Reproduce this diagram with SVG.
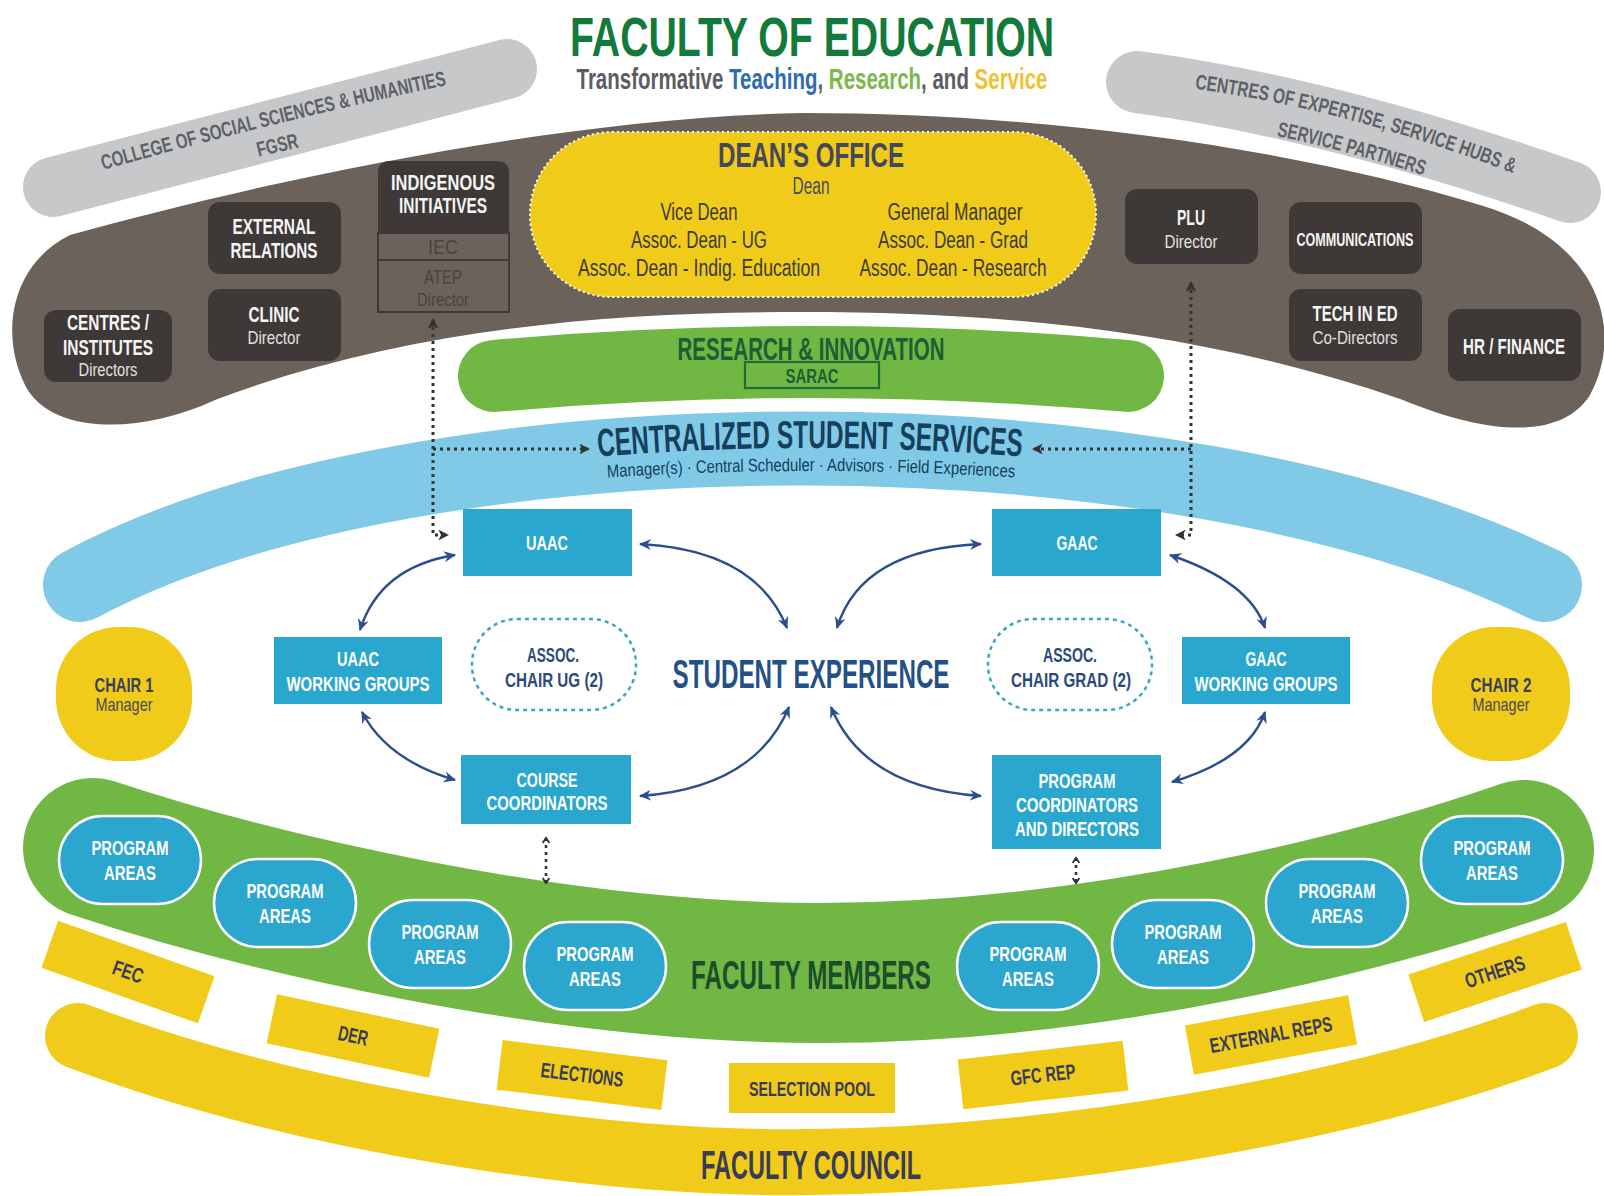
<svg xmlns="http://www.w3.org/2000/svg" width="1604" height="1196" viewBox="0 0 1604 1196">
<defs>
<style>
text{font-family:"Liberation Sans Narrow","Liberation Sans",Arial,sans-serif;text-anchor:middle}
.b{font-weight:bold}
.dbox{fill:#3e3937}
.wt{fill:#f4f4f4;font-weight:bold;font-size:22px}
.wsub{fill:#e0e0e0;font-size:19px}
.bbox{fill:#29a7cf}
.bt{fill:#ffffff;font-weight:bold;font-size:21px}
.pa{fill:#2ba6ce;stroke:#ffffff;stroke-width:2.5}
.yl{fill:#f0cb1a}
.yt{fill:#393c54;font-weight:bold;font-size:21px}
.dean{fill:#3c3a31;font-size:23px}
.ac{fill:none;stroke:#2c4e8e;stroke-width:2.4;marker-start:url(#ah);marker-end:url(#ah)}
.dot{fill:none;stroke:#333333;stroke-width:3;stroke-dasharray:3 4}
.band{fill:none;stroke-linecap:round}
.grayt{fill:#5e6168;font-weight:bold;font-size:21px}
.asc{fill:#2a4a7c;font-weight:bold;font-size:21px}
</style>
<marker id="ah" viewBox="0 0 12 12" refX="10" refY="6" markerWidth="5.5" markerHeight="5.5" orient="auto-start-reverse"><path d="M0,1 L11,6 L0,11 L3.5,6 Z" fill="#2c4e8e"/></marker>
<marker id="dh" viewBox="0 0 10 10" refX="8" refY="5" markerWidth="3.6" markerHeight="3.6" orient="auto-start-reverse"><path d="M0,0 L10,5 L0,10 L2.5,5 Z" fill="#333333"/></marker>
<marker id="ch" viewBox="0 0 10 10" refX="8" refY="5" markerWidth="3.2" markerHeight="3.2" orient="auto-start-reverse"><path d="M2,1 L8,5 L2,9" fill="none" stroke="#333333" stroke-width="2.2"/></marker>
<path id="lt1" d="M 103 170 Q 272 122 447 85" fill="none"/>
<path id="rt1" d="M 1196 89 Q 1350 110 1512 173" fill="none"/>
<path id="rt2" d="M 1190 121 Q 1344 142 1506 205" fill="none"/>
<path id="cssp" d="M 560 460 Q 810 436 1060 460" fill="none"/>
<path id="cssp2" d="M 570 480 Q 811 462 1052 480" fill="none"/>
</defs>

<rect width="1604" height="1196" fill="#ffffff"/>

<g id="title">
<text x="812" y="56" font-size="56" class="b" fill="#127a3a" textLength="484" lengthAdjust="spacingAndGlyphs">FACULTY OF EDUCATION</text>
<text x="812" y="89" font-size="29" class="b" textLength="471" lengthAdjust="spacingAndGlyphs"><tspan fill="#5b5d63">Transformative </tspan><tspan fill="#2b6cb3">Teaching</tspan><tspan fill="#5b5d63">, </tspan><tspan fill="#7bb84a">Research</tspan><tspan fill="#5b5d63">, and </tspan><tspan fill="#f1c232">Service</tspan></text>
</g>

<g id="college-band">
<path class="band" d="M 53 187 L 507 69" stroke="#c7c8ca" stroke-width="60"/>
<text class="grayt"><textPath href="#lt1" startOffset="50%" textLength="354" lengthAdjust="spacingAndGlyphs">COLLEGE OF SOCIAL SCIENCES &amp; HUMANITIES</textPath></text>
<text x="279" y="152" transform="rotate(-13 279 152)" class="grayt" textLength="42" lengthAdjust="spacingAndGlyphs">FGSR</text>
</g>

<g id="centres-expertise-band">
<path class="band" d="M 1137 82 Q 1326 107 1570 192" stroke="#c7c8ca" stroke-width="62"/>
<text class="grayt"><textPath href="#rt1" startOffset="50%" textLength="330" lengthAdjust="spacingAndGlyphs">CENTRES OF EXPERTISE, SERVICE HUBS &amp;</textPath></text>
<text class="grayt"><textPath href="#rt2" startOffset="50%" textLength="152" lengthAdjust="spacingAndGlyphs">SERVICE PARTNERS</textPath></text>
</g>

<g id="admin-band">
<path d="M 802 113 C 1050 113, 1300 150, 1480 205 C 1600 240, 1625 330, 1590 395 C 1565 435, 1500 440, 1403 400 C 1200 330, 1000 312, 802 312 C 600 312, 400 330, 215 400 C 140 435, 50 435, 25 385 C 0 335, 10 265, 70 235 C 250 185, 550 118, 802 113 Z" fill="#6c625c"/>
</g>

<g id="centres-institutes">
<rect class="dbox" x="44" y="310" width="128" height="72" rx="12"/>
<text x="108" y="330" class="wt" textLength="82" lengthAdjust="spacingAndGlyphs">CENTRES /</text>
<text x="108" y="355" class="wt" textLength="90" lengthAdjust="spacingAndGlyphs">INSTITUTES</text>
<text x="108" y="376" class="wsub" textLength="59" lengthAdjust="spacingAndGlyphs">Directors</text>
</g>

<g id="external-relations">
<rect class="dbox" x="208" y="202" width="133" height="72" rx="12"/>
<text x="274" y="234" class="wt" textLength="83" lengthAdjust="spacingAndGlyphs">EXTERNAL</text>
<text x="274" y="258" class="wt" textLength="87" lengthAdjust="spacingAndGlyphs">RELATIONS</text>
</g>

<g id="clinic">
<rect class="dbox" x="208" y="289" width="133" height="72" rx="12"/>
<text x="274" y="322" class="wt" textLength="51" lengthAdjust="spacingAndGlyphs">CLINIC</text>
<text x="274" y="344" class="wsub" textLength="53" lengthAdjust="spacingAndGlyphs">Director</text>
</g>

<g id="indigenous-initiatives">
<path class="dbox" d="M 378 233 V 173 Q 378 161 390 161 H 497 Q 509 161 509 173 V 233 Z"/>
<rect x="378" y="233" width="131" height="79" fill="none" stroke="#3e3937" stroke-width="2"/>
<line x1="378" y1="260" x2="509" y2="260" stroke="#3e3937" stroke-width="2"/>
<text x="443" y="190" class="wt" textLength="104" lengthAdjust="spacingAndGlyphs">INDIGENOUS</text>
<text x="443" y="213" class="wt" textLength="88" lengthAdjust="spacingAndGlyphs">INITIATIVES</text>
<text x="443" y="254" font-size="21" fill="#4a4441" textLength="30" lengthAdjust="spacingAndGlyphs">IEC</text>
<text x="443" y="284" font-size="21" fill="#4a4441" textLength="38" lengthAdjust="spacingAndGlyphs">ATEP</text>
<text x="443" y="306" font-size="19" fill="#4a4441" textLength="52" lengthAdjust="spacingAndGlyphs">Director</text>
</g>

<g id="deans-office">
<rect x="530" y="132" width="566" height="165" rx="82" fill="#f0cb1a" stroke="#ffffff" stroke-width="2" stroke-dasharray="2 3"/>
<text x="811" y="167" font-size="35" class="b" fill="#45475a" textLength="186" lengthAdjust="spacingAndGlyphs">DEAN’S OFFICE</text>
<text x="811" y="194" font-size="23" fill="#474c63" textLength="37" lengthAdjust="spacingAndGlyphs">Dean</text>
<text x="699" y="220" class="dean" textLength="77" lengthAdjust="spacingAndGlyphs">Vice Dean</text>
<text x="699" y="248" class="dean" textLength="136" lengthAdjust="spacingAndGlyphs">Assoc. Dean - UG</text>
<text x="699" y="276" class="dean" textLength="242" lengthAdjust="spacingAndGlyphs">Assoc. Dean - Indig. Education</text>
<text x="955" y="220" class="dean" textLength="135" lengthAdjust="spacingAndGlyphs">General Manager</text>
<text x="953" y="248" class="dean" textLength="150" lengthAdjust="spacingAndGlyphs">Assoc. Dean - Grad</text>
<text x="953" y="276" class="dean" textLength="187" lengthAdjust="spacingAndGlyphs">Assoc. Dean - Research</text>
</g>

<g id="plu">
<rect class="dbox" x="1125" y="189" width="133" height="75" rx="12"/>
<text x="1191" y="225" class="wt" textLength="28" lengthAdjust="spacingAndGlyphs">PLU</text>
<text x="1191" y="248" class="wsub" textLength="53" lengthAdjust="spacingAndGlyphs">Director</text>
</g>

<g id="communications">
<rect class="dbox" x="1289" y="202" width="133" height="72" rx="12"/>
<text x="1355" y="246" class="wt" style="font-size:18px" textLength="117" lengthAdjust="spacingAndGlyphs">COMMUNICATIONS</text>
</g>

<g id="tech-in-ed">
<rect class="dbox" x="1289" y="289" width="133" height="72" rx="12"/>
<text x="1355" y="321" class="wt" textLength="85" lengthAdjust="spacingAndGlyphs">TECH IN ED</text>
<text x="1355" y="344" class="wsub" textLength="85" lengthAdjust="spacingAndGlyphs">Co-Directors</text>
</g>

<g id="hr-finance">
<rect class="dbox" x="1448" y="309" width="133" height="72" rx="12"/>
<text x="1514" y="354" class="wt" textLength="102" lengthAdjust="spacingAndGlyphs">HR / FINANCE</text>
</g>

<g id="centralized-student-services">
<path class="band" d="M 80 585 C 420 402, 1180 404, 1545 585" stroke="#80c9e7" stroke-width="74"/>
<text font-size="39" class="b" fill="#163f5c"><textPath href="#cssp" startOffset="50%" textLength="424" lengthAdjust="spacingAndGlyphs">CENTRALIZED STUDENT SERVICES</textPath></text>
<text font-size="18" fill="#163f5c"><textPath href="#cssp2" startOffset="50%" textLength="408" lengthAdjust="spacingAndGlyphs">Manager(s) · Central Scheduler · Advisors · Field Experiences</textPath></text>
</g>

<g id="research-innovation">
<path class="band" d="M 494 376 Q 811 348 1128 376" stroke="#ffffff" stroke-width="80"/>
<path class="band" d="M 494 376 Q 811 348 1128 376" stroke="#70b744" stroke-width="72"/>
<text x="811" y="360" font-size="31" class="b" fill="#1d5e35" textLength="267" lengthAdjust="spacingAndGlyphs">RESEARCH &amp; INNOVATION</text>
<rect x="745" y="362" width="134" height="26" fill="none" stroke="#1e6b39" stroke-width="2.2"/>
<text x="812" y="383" font-size="21" class="b" fill="#1d5e35" textLength="53" lengthAdjust="spacingAndGlyphs">SARAC</text>
</g>

<g id="faculty-members-band">
<path class="band" d="M 93 848 C 250 900, 550 973, 820 973 C 1100 973, 1380 900, 1524 850" stroke="#70b744" stroke-width="140"/>
<text x="811" y="989" font-size="41" class="b" fill="#1e4d2b" textLength="240" lengthAdjust="spacingAndGlyphs">FACULTY MEMBERS</text>
</g>

<g id="faculty-council-band">
<path class="band" d="M 78 1036 C 300 1120, 600 1165, 810 1162 C 1050 1160, 1350 1110, 1545 1036" stroke="#f0cb1a" stroke-width="66"/>
<text x="811" y="1179" font-size="40" class="b" fill="#393c54" textLength="220" lengthAdjust="spacingAndGlyphs">FACULTY COUNCIL</text>
</g>

<g id="connectors">
<path class="dot" d="M 433 320 V 535 H 447" style="marker-start:url(#dh);marker-end:url(#dh)"/>
<path class="dot" d="M 433 449 H 588" style="marker-end:url(#dh)"/>
<path class="dot" d="M 1191 283 V 535 H 1177" style="marker-start:url(#dh);marker-end:url(#dh)"/>
<path class="dot" d="M 1191 449 H 1034" style="marker-end:url(#dh)"/>
<path class="ac" d="M 640 544 Q 756 550 787 628"/>
<path class="ac" d="M 981 544 Q 861 549 837 628"/>
<path class="ac" d="M 640 796 Q 755 788 789 707"/>
<path class="ac" d="M 981 796 Q 864 788 831 707"/>
<path class="ac" d="M 455 555 Q 380 567 360 630"/>
<path class="ac" d="M 362 712 Q 387 760 455 780"/>
<path class="ac" d="M 1170 555 Q 1250 582 1265 628"/>
<path class="ac" d="M 1265 712 Q 1249 759 1172 782"/>
<path class="dot" d="M 546 838 V 883" style="stroke-width:2.6;marker-start:url(#ch);marker-end:url(#ch)"/>
<path class="dot" d="M 1076 858 V 883" style="stroke-width:2.6;marker-start:url(#ch);marker-end:url(#ch)"/>
</g>

<g id="uaac">
<rect class="bbox" x="463" y="509" width="169" height="67"/>
<text x="547" y="550" class="bt" textLength="42" lengthAdjust="spacingAndGlyphs">UAAC</text>
</g>
<g id="gaac">
<rect class="bbox" x="992" y="509" width="169" height="67"/>
<text x="1077" y="550" class="bt" textLength="41" lengthAdjust="spacingAndGlyphs">GAAC</text>
</g>
<g id="uaac-working-groups">
<rect class="bbox" x="274" y="637" width="168" height="67"/>
<text x="358" y="666" class="bt" textLength="42" lengthAdjust="spacingAndGlyphs">UAAC</text>
<text x="358" y="691" class="bt" textLength="143" lengthAdjust="spacingAndGlyphs">WORKING GROUPS</text>
</g>
<g id="gaac-working-groups">
<rect class="bbox" x="1182" y="637" width="168" height="67"/>
<text x="1266" y="666" class="bt" textLength="41" lengthAdjust="spacingAndGlyphs">GAAC</text>
<text x="1266" y="691" class="bt" textLength="143" lengthAdjust="spacingAndGlyphs">WORKING GROUPS</text>
</g>
<g id="assoc-chair-ug">
<rect x="472" y="619" width="164" height="91" rx="45" fill="none" stroke="#3aa6c4" stroke-width="2.5" stroke-dasharray="4 4"/>
<text x="553" y="662" class="asc" textLength="52" lengthAdjust="spacingAndGlyphs">ASSOC.</text>
<text x="554" y="687" class="asc" textLength="98" lengthAdjust="spacingAndGlyphs">CHAIR UG (2)</text>
</g>
<g id="assoc-chair-grad">
<rect x="988" y="619" width="164" height="91" rx="45" fill="none" stroke="#3aa6c4" stroke-width="2.5" stroke-dasharray="4 4"/>
<text x="1070" y="662" class="asc" textLength="54" lengthAdjust="spacingAndGlyphs">ASSOC.</text>
<text x="1071" y="687" class="asc" textLength="120" lengthAdjust="spacingAndGlyphs">CHAIR GRAD (2)</text>
</g>
<g id="student-experience">
<text x="811" y="688" font-size="40" class="b" fill="#235187" textLength="277" lengthAdjust="spacingAndGlyphs">STUDENT EXPERIENCE</text>
</g>
<g id="course-coordinators">
<rect class="bbox" x="461" y="755" width="170" height="69"/>
<text x="547" y="787" class="bt" textLength="61" lengthAdjust="spacingAndGlyphs">COURSE</text>
<text x="547" y="810" class="bt" textLength="121" lengthAdjust="spacingAndGlyphs">COORDINATORS</text>
</g>
<g id="program-coordinators">
<rect class="bbox" x="992" y="755" width="169" height="94"/>
<text x="1077" y="788" class="bt" textLength="77" lengthAdjust="spacingAndGlyphs">PROGRAM</text>
<text x="1077" y="812" class="bt" textLength="122" lengthAdjust="spacingAndGlyphs">COORDINATORS</text>
<text x="1077" y="836" class="bt" textLength="124" lengthAdjust="spacingAndGlyphs">AND DIRECTORS</text>
</g>

<g id="chair-1">
<rect x="56" y="627" width="136" height="134" rx="62" class="yl"/>
<text x="124" y="692" font-size="21" class="b" fill="#3c3f58" textLength="59" lengthAdjust="spacingAndGlyphs">CHAIR 1</text>
<text x="124" y="711" font-size="19" fill="#4a4a55" textLength="57" lengthAdjust="spacingAndGlyphs">Manager</text>
</g>
<g id="chair-2">
<rect x="1432" y="627" width="138" height="134" rx="62" class="yl"/>
<text x="1501" y="692" font-size="21" class="b" fill="#3c3f58" textLength="61" lengthAdjust="spacingAndGlyphs">CHAIR 2</text>
<text x="1501" y="711" font-size="19" fill="#4a4a55" textLength="57" lengthAdjust="spacingAndGlyphs">Manager</text>
</g>

<g id="program-areas-1">
<rect class="pa" x="59" y="816" width="142" height="88" rx="44"/>
<text x="130" y="855" class="bt" textLength="77" lengthAdjust="spacingAndGlyphs">PROGRAM</text>
<text x="130" y="880" class="bt" textLength="52" lengthAdjust="spacingAndGlyphs">AREAS</text>
</g>
<g id="program-areas-2">
<rect class="pa" x="214" y="859" width="142" height="88" rx="44"/>
<text x="285" y="898" class="bt" textLength="77" lengthAdjust="spacingAndGlyphs">PROGRAM</text>
<text x="285" y="923" class="bt" textLength="52" lengthAdjust="spacingAndGlyphs">AREAS</text>
</g>
<g id="program-areas-3">
<rect class="pa" x="369" y="900" width="142" height="88" rx="44"/>
<text x="440" y="939" class="bt" textLength="77" lengthAdjust="spacingAndGlyphs">PROGRAM</text>
<text x="440" y="964" class="bt" textLength="52" lengthAdjust="spacingAndGlyphs">AREAS</text>
</g>
<g id="program-areas-4">
<rect class="pa" x="524" y="922" width="142" height="88" rx="44"/>
<text x="595" y="961" class="bt" textLength="77" lengthAdjust="spacingAndGlyphs">PROGRAM</text>
<text x="595" y="986" class="bt" textLength="52" lengthAdjust="spacingAndGlyphs">AREAS</text>
</g>
<g id="program-areas-5">
<rect class="pa" x="957" y="922" width="142" height="88" rx="44"/>
<text x="1028" y="961" class="bt" textLength="77" lengthAdjust="spacingAndGlyphs">PROGRAM</text>
<text x="1028" y="986" class="bt" textLength="52" lengthAdjust="spacingAndGlyphs">AREAS</text>
</g>
<g id="program-areas-6">
<rect class="pa" x="1112" y="900" width="142" height="88" rx="44"/>
<text x="1183" y="939" class="bt" textLength="77" lengthAdjust="spacingAndGlyphs">PROGRAM</text>
<text x="1183" y="964" class="bt" textLength="52" lengthAdjust="spacingAndGlyphs">AREAS</text>
</g>
<g id="program-areas-7">
<rect class="pa" x="1266" y="859" width="142" height="88" rx="44"/>
<text x="1337" y="898" class="bt" textLength="77" lengthAdjust="spacingAndGlyphs">PROGRAM</text>
<text x="1337" y="923" class="bt" textLength="52" lengthAdjust="spacingAndGlyphs">AREAS</text>
</g>
<g id="program-areas-8">
<rect class="pa" x="1421" y="816" width="142" height="88" rx="44"/>
<text x="1492" y="855" class="bt" textLength="77" lengthAdjust="spacingAndGlyphs">PROGRAM</text>
<text x="1492" y="880" class="bt" textLength="52" lengthAdjust="spacingAndGlyphs">AREAS</text>
</g>

<g id="fec" transform="translate(128 972) rotate(19.5)">
<rect class="yl" x="-83" y="-25" width="166" height="50"/>
<text x="0" y="7" class="yt" textLength="31" lengthAdjust="spacingAndGlyphs">FEC</text>
</g>
<g id="der" transform="translate(353 1036) rotate(12)">
<rect class="yl" x="-83" y="-25" width="166" height="50"/>
<text x="0" y="7" class="yt" textLength="30" lengthAdjust="spacingAndGlyphs">DER</text>
</g>
<g id="elections" transform="translate(582 1075) rotate(7)">
<rect class="yl" x="-83" y="-25" width="166" height="50"/>
<text x="0" y="7" class="yt" textLength="83" lengthAdjust="spacingAndGlyphs">ELECTIONS</text>
</g>
<g id="selection-pool" transform="translate(812 1088)">
<rect class="yl" x="-83" y="-25" width="166" height="50"/>
<text x="0" y="8" class="yt" textLength="126" lengthAdjust="spacingAndGlyphs">SELECTION POOL</text>
</g>
<g id="gfc-rep" transform="translate(1043 1075) rotate(-6.5)">
<rect class="yl" x="-83" y="-25" width="166" height="50"/>
<text x="0" y="7" class="yt" textLength="65" lengthAdjust="spacingAndGlyphs">GFC REP</text>
</g>
<g id="external-reps" transform="translate(1271 1035) rotate(-10.5)">
<rect class="yl" x="-83" y="-25" width="166" height="50"/>
<text x="0" y="7" class="yt" textLength="124" lengthAdjust="spacingAndGlyphs">EXTERNAL REPS</text>
</g>
<g id="others" transform="translate(1495 972) rotate(-18.4)">
<rect class="yl" x="-83" y="-25" width="166" height="50"/>
<text x="0" y="7" class="yt" textLength="62" lengthAdjust="spacingAndGlyphs">OTHERS</text>
</g>
</svg>
